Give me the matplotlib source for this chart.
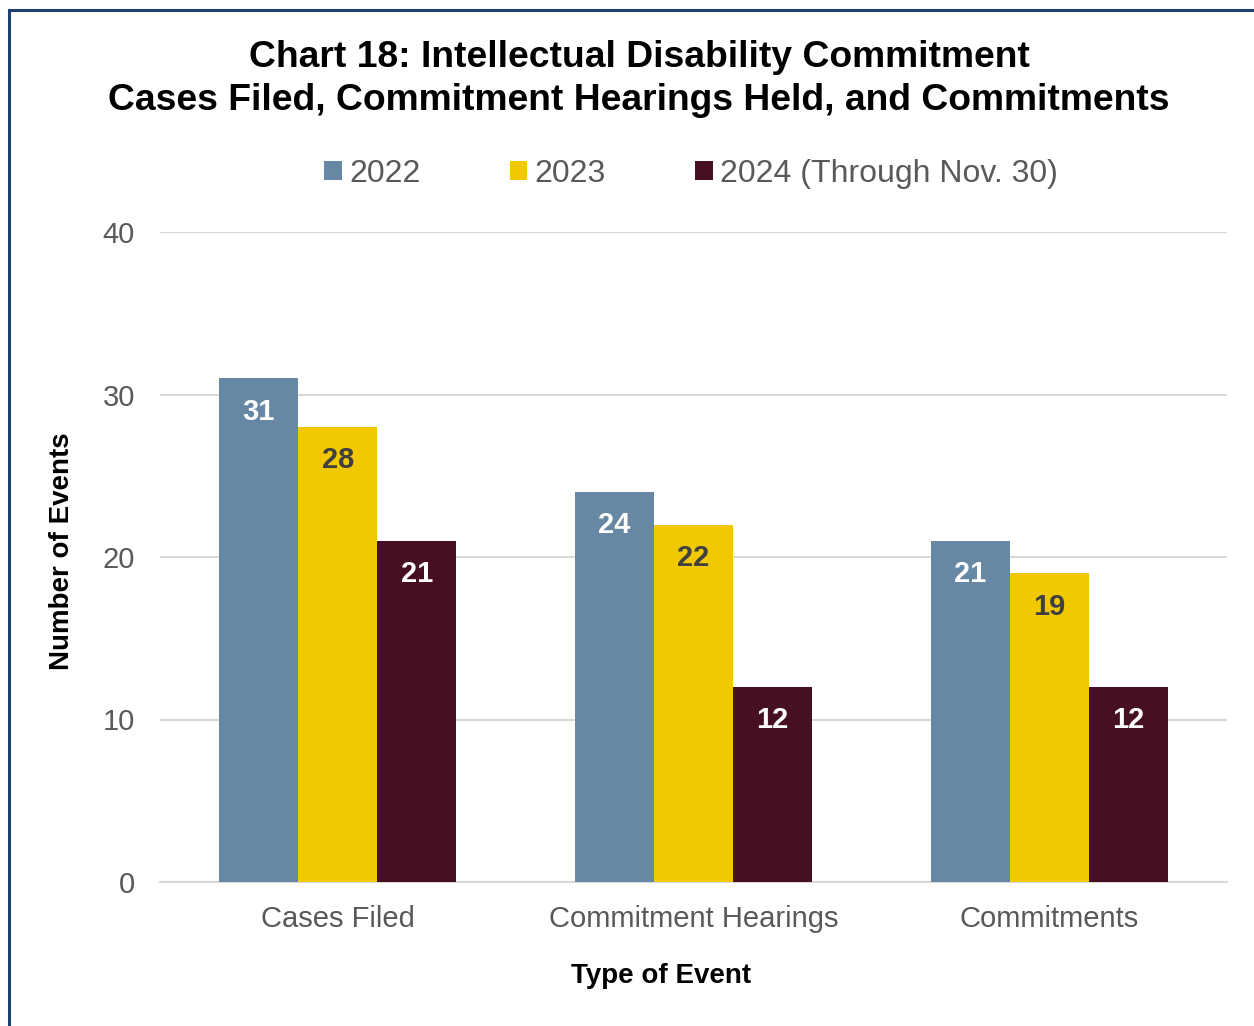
import numpy as np
import matplotlib.pyplot as plt
from matplotlib.patches import Rectangle, Patch

plt.rcParams['font.family'] = ['Liberation Sans', 'DejaVu Sans']

categories = ['Cases Filed', 'Commitment Hearings', 'Commitments']
series_names = ['2022', '2023', '2024 (Through Nov. 30)']
values_2022 = [31, 24, 21]
values_2023 = [28, 22, 19]
values_2024 = [21, 12, 12]

colors = ['#6788A5', '#F2C900', '#461022']
label_colors = ['white', '#404040', 'white']

fig = plt.figure(figsize=(12.54, 10.26), dpi=100)
ax = fig.add_axes([160 / 1254, 1 - 882 / 1026, 1067 / 1254, 650 / 1026])

# outer frame of the chart
fig.patches.append(Rectangle((9 / 1254, -0.05), 1.2, 1 - 10 / 1026 + 0.05,
                             transform=fig.transFigure, fill=False,
                             edgecolor='#1F3F6E', linewidth=2.2))

x = np.arange(len(categories))
width = 0.222
all_vals = [values_2022, values_2023, values_2024]
for i, vals in enumerate(all_vals):
    pos = x + (i - 1) * width
    ax.bar(pos, vals, width=width, color=colors[i], zorder=3)
    for px, v in zip(pos, vals):
        ax.text(px, v - 2.05, str(v), ha='center', va='center', fontsize=21,
                fontweight='bold', color=label_colors[i], zorder=4)

ax.set_xlim(-0.5, 2.5)
ax.set_ylim(0, 40)
ax.set_yticks([0, 10, 20, 30, 40])
ax.set_xticks(x)
ax.set_xticklabels(categories)
ax.tick_params(axis='both', length=0, labelsize=21, colors='#595959')
ax.tick_params(axis='y', pad=18)
ax.tick_params(axis='x', pad=16.5)
ax.grid(axis='y', color='#D9D9D9', linewidth=1.5, zorder=0)
for s in ['top', 'right', 'left']:
    ax.spines[s].set_visible(False)
ax.spines['bottom'].set_color('#D9D9D9')
ax.spines['bottom'].set_linewidth(1.5)

ax.set_ylabel('Number of Events', fontsize=20, fontweight='bold')
ax.set_xlabel('Type of Event', fontsize=20, fontweight='bold')
ax.yaxis.set_label_coords((62 - 160) / 1067, (882 - 551) / 650)
ax.xaxis.set_label_coords((661 - 160) / 1067, -(976 - 882) / 650)
ax.xaxis.label.set_va('center')
ax.yaxis.label.set_va('center')

fig.text(639 / 1254, 1 - 79 / 1026,
         'Chart 18: Intellectual Disability Commitment\n'
         'Cases Filed, Commitment Hearings Held, and Commitments',
         ha='center', va='center', fontsize=26.8, fontweight='bold',
         linespacing=1.27)

handles = [Patch(facecolor=c) for c in colors]
fig.legend(handles, series_names, loc='center', bbox_to_anchor=(691 / 1254, 1 - 174 / 1026),
           ncol=3, frameon=False, fontsize=23, handlelength=0.55, handleheight=0.55,
           handletextpad=0.22, columnspacing=2.8, labelcolor='#595959')

fig.savefig('out.png', dpi=100)
